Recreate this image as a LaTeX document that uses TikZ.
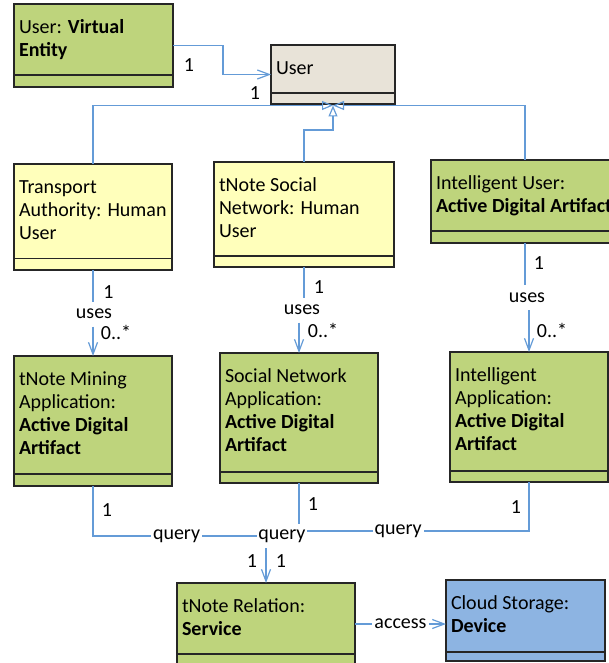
\documentclass[tikz,border=0pt]{standalone}
\usepackage{fontspec}
\setmainfont{Carlito}
\usetikzlibrary{arrows.meta,calc}
\definecolor{cgreen}{RGB}{190,212,124}
\definecolor{cyellow}{RGB}{255,255,187}
\definecolor{cbeige}{RGB}{232,227,216}
\definecolor{cblue}{RGB}{141,180,226}
\definecolor{lineblue}{RGB}{100,155,215}
\newcommand{\umlclass}[8]{%
  \node[classbox, fill=#7, minimum width={#4-#2}, minimum height={#5-#3}, anchor=north west] (#1) at (#2,#3) {};
  \draw[sepline] (#2,#6) -- (#4,#6);
  \node[classtext, anchor=north west] (#1-t) at ([xshift=5pt,yshift=-12.7pt]#1.north west) {#8};
}
\begin{document}
\begin{tikzpicture}[x=1pt,y=-1pt,
  classbox/.style={draw=black!85, line width=1.1pt, inner sep=0pt, outer sep=0pt, rectangle},
  sepline/.style={draw=black!85, line width=1.1pt},
  classtext/.style={inner sep=0pt, outer sep=0pt, align=left, font=\fontsize{20}{23.3}\selectfont},
  conn/.style={draw=lineblue, line width=1.2pt},
  assocarrow/.style={conn, -{Straight Barb[length=12pt,width=9pt]}},
  genarrow/.style={conn, -{Triangle[open,length=11pt,width=9pt]}},
  mult/.style={inner sep=0pt, outer sep=0pt, font=\fontsize{20}{23.3}\selectfont},
  gaplbl/.style={mult, minimum height=25pt, inner xsep=1pt},
  onlbl/.style={mult, fill=white, inner xsep=2pt, inner ysep=1pt}
]
\useasboundingbox (0,0) rectangle (608,663);

% classes
\umlclass{ve}{14}{4}{173}{87}{75}{cgreen}{\strut User: \textbf{Virtual}\\\textbf{Entity}}
\umlclass{user}{271}{45}{395}{104}{93}{cbeige}{\strut User}
\umlclass{ta}{14}{164}{172}{270}{258.5}{cyellow}{\strut Transport\\Authority: Human\\User}
\umlclass{ts}{214}{162}{394}{267}{256}{cyellow}{\strut tNote Social\\Network: Human\\User}
\umlclass{iu}{431}{160}{619}{243}{231}{cgreen}{\strut Intelligent User:\\\textbf{Active Digital Artifact}}
\umlclass{tm}{14}{356}{172}{486}{474}{cgreen}{\strut tNote Mining\\Application:\\\textbf{Active Digital}\\\textbf{Artifact}}
\umlclass{sn}{220}{353}{378}{483}{472}{cgreen}{\strut Social Network\\Application:\\\textbf{Active Digital}\\\textbf{Artifact}}
\umlclass{ia}{450}{352}{608}{482}{471}{cgreen}{\strut Intelligent\\Application:\\\textbf{Active Digital}\\\textbf{Artifact}}
\umlclass{tr}{177}{583}{355}{672}{654}{cgreen}{\strut tNote Relation:\\\textbf{Service}}
\umlclass{cs}{446}{580}{605}{661}{652}{cblue}{\strut Cloud Storage:\\\textbf{Device}}

% association Virtual Entity -> User
\draw[assocarrow] (ve.east) -- ++(50,0) |- (user.west);
\node[mult] (m1) at (189,65) {1};
\node[mult] (m2) at (255,93) {1};

% generalizations
\coordinate (gen) at ([yshift=-1.5pt]user.south);
\draw[genarrow] (ta.north) |- (gen);
\draw[genarrow] (iu.north) |- (gen);
\draw[genarrow] (ts.north) |- ([yshift=-24.5pt]gen) -- (gen);

% uses
\node[gaplbl] (u1) at (94,314) {uses};
\draw[conn] (ta.south) -- (ta.south |- u1.north);
\draw[assocarrow] (tm.north |- u1.south) -- (tm.north);
\node[mult] (m3) at (108.5,292) {1};
\node[mult] (m4) at (116,332) {0..*};

\node[gaplbl] (u2) at (302,310) {uses};
\draw[conn] (ts.south) -- (ts.south |- u2.north);
\draw[assocarrow] (sn.north |- u2.south) -- (sn.north);
\node[mult] (m5) at (319,287) {1};
\node[mult] (m6) at (323,330) {0..*};

\node[gaplbl] (u3) at (527,297.5) {uses};
\draw[conn] (iu.south) -- (iu.south |- u3.north);
\draw[assocarrow] (ia.north |- u3.south) -- (ia.north);
\node[mult] (m7) at (539,263) {1};
\node[mult] (m8) at (552,330) {0..*};

% query
\node[mult, minimum height=24pt, inner xsep=1pt] (qm) at (282,536) {query};
\draw[conn] (tm.south) |- (qm.west) node[onlbl, pos=0.754] (ql) {query};
\draw[conn] (sn.south) -- (sn.south |- qm.north);
\draw[conn] (ia.south) |- ([yshift=5pt]qm.east) node[onlbl, pos=0.794] (qr) {query};
\draw[assocarrow] (tr.north |- qm.south) -- (tr.north);
\node[mult] (m9) at (107,510) {1};
\node[mult] (m10) at (313,504) {1};
\node[mult] (m11) at (516,507) {1};
\node[mult] (m12) at (252,561) {1};
\node[mult] (m13) at (281,561) {1};

% access
\coordinate (acc) at (0,624);
\draw[assocarrow] (tr.east |- acc) -- (cs.west |- acc) node[onlbl, midway] (al) {access};
\end{tikzpicture}
\end{document}
